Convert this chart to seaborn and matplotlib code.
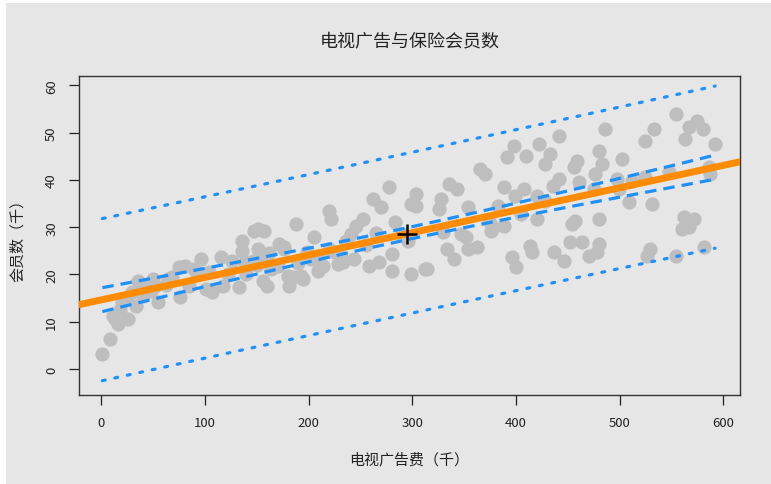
import numpy as np
import pandas as pd
import matplotlib
matplotlib.use("Agg")
import matplotlib.pyplot as plt
from matplotlib.patches import Rectangle
import seaborn as sns

# ---- data ----
tv_ad = [1, 8, 13.5, 16.5, 11, 20, 26, 33, 35, 40, 50, 55, 64, 76, 75, 81, 89, 96, 101, 107, 115, 117, 133, 136, 136, 139, 147,
         151, 157, 151, 154, 156, 160, 171, 176, 188, 205, 195, 181, 186, 209, 220, 222, 220, 233, 244, 241, 246, 252, 262, 270,
         277, 280, 258, 268, 280, 283, 299, 304, 299, 312, 180, 193, 231, 224, 209, 202, 146, 176, 164, 170, 214, 228,
         328, 326, 335, 343, 365, 370, 354, 388, 399, 408, 398, 391, 410, 422, 433, 428, 441, 436, 441, 459, 456, 461,
         383, 420, 428, 420, 378, 388, 347, 352, 330, 304, 354, 362, 333, 340, 396, 400, 413, 415, 437, 446, 454, 457,
         452, 464, 314, 376, 374, 405,
         486, 533, 524, 554, 567, 575, 580, 563, 592, 480, 502, 483, 476, 497, 512, 524, 548, 586, 587, 475, 499, 509,
         531, 480, 562, 572, 567, 560, 480, 470, 478, 529, 526, 554, 581,
         18, 24, 30, 42, 48, 52, 62, 68, 85, 92, 104, 122, 126, 140, 150,
         162, 190, 198, 236, 255, 265, 290, 296]
members = [3.2, 6.4, 10.6, 9.5, 11.2, 14.2, 10.6, 13.3, 18.6, 15.5, 19, 14.2, 19, 15.3, 21.6, 21.8, 21.2, 23.3, 17, 16.3, 23.7,
           17.6, 17.4, 27, 25, 22.7, 29.2,
           29.7, 29.2, 25.4, 24, 18.6, 17.6, 26.5, 25.8, 30.7, 28, 19, 17.6, 19.5, 20.8, 33.5, 31.8, 25.4, 22.7, 23.3, 28.6,
           30.3, 31.8, 36, 34.3, 38.6, 24.4, 21.8, 22.7, 20.8, 31.1, 20.1, 37, 35, 21.2, 19.7, 19.7, 23.7, 24.8, 23.9, 23.3,
           22.9, 25.4, 21.2, 21.8, 21.8, 22.2,
           36, 33.9, 39.2, 38.1, 42.4, 41.3, 34.3, 38.6, 36.7, 38.1, 47.2, 44.9, 45.1, 47.7, 45.6, 43.4, 49.4, 38.8, 40.3,
           44.1, 42.8, 39.6, 34.5, 36.7, 35.6, 31.8, 30.1, 30.3, 28.6, 28, 29, 34.5, 25.4, 25.8, 25.4, 23.3, 23.7, 21.6,
           26.1, 24.8, 24.8, 22.9, 30.7, 31.4, 26.9, 26.9, 21.2, 29.2, 31.4, 32.8,
           50.8, 50.8, 48.3, 54, 51.3, 52.5, 50.8, 48.7, 47.7, 46.2, 44.5, 43.4, 41.3, 40.3, 39.8, 40.7, 41.7, 42.8, 41.3,
           38.1, 38.1, 35.4, 35, 31.8, 32.2, 31.8, 30.1, 29.7, 26.5, 24, 24.8, 25.4, 24, 24, 25.8,
           12.5, 14.8, 16.2, 17.5, 16.5, 17.5, 17.8, 19.5, 17.5, 20, 20.5, 20.2, 22.8,
           20, 22,
           24.5, 22.5, 24.8, 27, 26.2, 28.8, 28.5, 27]

x_ticks = [0, 100, 200, 300, 400, 500, 600]
y_ticks = [0, 10, 20, 30, 40, 50, 60]
title = "电视广告与保险会员数"
x_label = "电视广告费（千）"
y_label = "会员数（千）"
level = 0.99

df = pd.DataFrame({"x": tv_ad, "y": members})

# ---- linear regression with confidence / prediction bands (99 %) ----
x = df["x"].to_numpy(float)
y = df["y"].to_numpy(float)
n = len(x)
b1, b0 = np.polyfit(x, y, 1)
resid = y - (b0 + b1 * x)
s = np.sqrt(np.sum(resid ** 2) / (n - 2))
xm, ym = x.mean(), y.mean()
sxx = np.sum((x - xm) ** 2)
z = 2.575829  # normal quantile for 99 %
dfree = n - 2
tq = z + (z ** 3 + z) / (4 * dfree) + (5 * z ** 5 + 16 * z ** 3 + 3 * z) / (96 * dfree ** 2)
grid = np.linspace(x.min(), x.max(), 200)
fit = b0 + b1 * grid
se_conf = s * np.sqrt(1 / n + (grid - xm) ** 2 / sxx)
se_pred = s * np.sqrt(1 + 1 / n + (grid - xm) ** 2 / sxx)
bands = pd.DataFrame({
    "x": grid,
    "conf_lo": fit - tq * se_conf, "conf_hi": fit + tq * se_conf,
    "pred_lo": fit - tq * se_pred, "pred_hi": fit + tq * se_pred,
})

# ---- drawing ----
sns.set_style("white")
plt.rcParams["font.family"] = ["Noto Sans CJK SC", "DejaVu Sans"]

BG = "#E6E6E6"
fig = plt.figure(figsize=(7.71, 4.85), dpi=100, facecolor="white")
fig.add_artist(Rectangle((6 / 771, 0), 1, 1 - 4 / 485, transform=fig.transFigure,
                         facecolor=BG, edgecolor="none", zorder=-10))
ax = fig.add_axes([79 / 771, 1 - 396 / 485, (740 - 79) / 771, (396 - 77) / 485])
ax.set_facecolor(BG)

sns.scatterplot(data=df, x="x", y="y", ax=ax, color="#BEBEBE", s=105, linewidth=0, alpha=1, zorder=2)

ax.axline((0, b0), slope=b1, color="#FF8C00", lw=5, zorder=4)
blue = "#1E90FF"
for col in ["conf_lo", "conf_hi"]:
    ax.plot(bands["x"], bands[col], color=blue, lw=2.3, dashes=(3.6, 2.2), zorder=3)
for col in ["pred_lo", "pred_hi"]:
    ax.plot(bands["x"], bands[col], color=blue, lw=2.3, dashes=(0.9, 3.1),
            dash_capstyle="round", zorder=3)

ax.plot([xm], [ym], marker="+", ms=15, mew=1.8, color="black", ls="none", zorder=5)

ax.set_xlim(-21.5, 616)
ax.set_ylim(-5.5, 62)
ax.set_xticks(x_ticks)
ax.set_yticks(y_ticks)
ax.set_xticklabels([str(t) for t in x_ticks])
ax.set_yticklabels([str(t) for t in y_ticks])
ax.tick_params(axis="both", direction="out", length=7, width=0.9, color="#222222",
               labelsize=9.5, labelcolor="#222222", pad=8, left=True, bottom=True)
for lab in ax.get_yticklabels():
    lab.set_rotation(90)
    lab.set_va("center")

for sp in ax.spines.values():
    sp.set_visible(True)
    sp.set_color("#333333")
    sp.set_linewidth(1.0)

ax.set_xlabel(x_label, fontsize=10.8, color="#222222", va="center")
ax.xaxis.set_label_coords(0.5, -0.2)
ax.set_ylabel(y_label, fontsize=10.8, color="#222222", va="center")
ax.yaxis.set_label_coords(-0.092, 0.5)
ax.set_title(title, fontsize=13, color="#222222", y=1.11, pad=0, va="center")

fig.savefig("out.png", dpi=100, facecolor=fig.get_facecolor())
